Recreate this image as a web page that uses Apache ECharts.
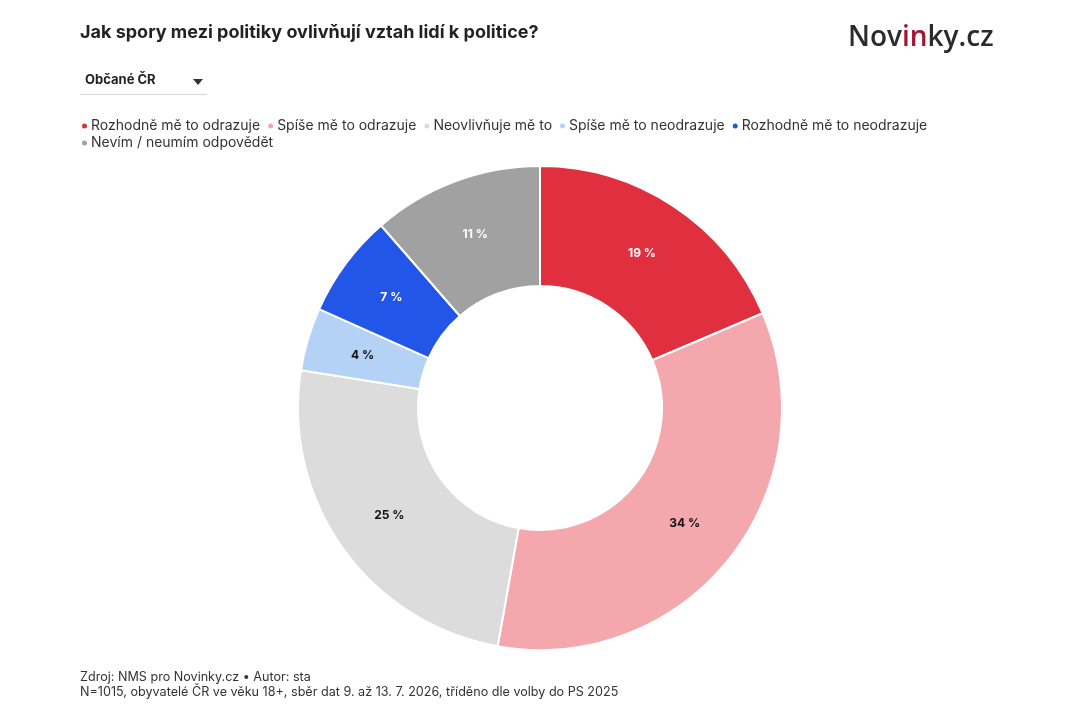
<!DOCTYPE html>
<html>
<head>
<meta charset="utf-8">
<script src="https://cdn.jsdelivr.net/npm/echarts@6/dist/echarts.min.js"></script>
<style>
html,body{margin:0;padding:0;background:#fff;}
#chart{width:1080px;height:720px;}
</style>
</head>
<body>
<div id="chart"></div>
<script>
const categories = ['Rozhodně mě to odrazuje','Spíše mě to odrazuje','Neovlivňuje mě to','Spíše mě to neodrazuje','Rozhodně mě to neodrazuje','Nevím / neumím odpovědět'];
const values = [18.6, 34.2, 24.7, 4.2, 6.9, 11.4];
const colors = ['#e02f3e','#f4a8ae','#dcdcdc','#b4d2f5','#2256e8','#a1a1a1'];
const labelColors = ['#ffffff','#111111','#111111','#111111','#ffffff','#ffffff'];

const chart = echarts.init(document.getElementById('chart'));
const font = 'Inter, "Noto Sans", sans-serif';
const legendBase = {
  left:80, padding:0,
  icon:'circle', itemWidth:7, itemHeight:7, itemGap:6,
  textStyle:{fontFamily:font, fontSize:14, color:'#333', padding:[0,0,0,-2]}
};
chart.setOption({
  animation:false,
  title:[
    {text:'Jak spory mezi politiky ovlivňují vztah lidí k politice?', left:80, top:24, padding:0,
     textStyle:{fontFamily:font, fontSize:18, fontWeight:'bold', color:'#222'}},
    {text:'Zdroj: NMS pro Novinky.cz • Autor: sta\nN=1015, obyvatelé ČR ve věku 18+, sběr dat 9. až 13. 7. 2026, tříděno dle volby do PS 2025',
     left:80, top:670, padding:0, textStyle:{fontFamily:font, fontSize:12.6, fontWeight:'normal', color:'#333', lineHeight:15}}
  ],
  graphic:[
    {type:'text', left:848, top:24, style:{
      text:'{a|Nov}{b|in}{a|ky.cz}',
      rich:{
        a:{fontFamily:'"Open Sans", sans-serif', fontSize:28, fontWeight:600, fill:'#2b2b2b'},
        b:{fontFamily:'"Open Sans", sans-serif', fontSize:28, fontWeight:600, fill:'#a01730'}
      }}},
    {type:'text', left:85, top:74, style:{text:'Občané ČR', fontFamily:font, fontSize:13, fontWeight:'bold', fill:'#222'}},
    {type:'polygon', shape:{points:[[193,79],[203,79],[198,85]]}, style:{fill:'#333'}},
    {type:'line', shape:{x1:80,y1:94.5,x2:207,y2:94.5}, style:{stroke:'#d6d6d6', lineWidth:1}}
  ],
  legend:[
    Object.assign({top:119, data:categories.slice(0,5)}, legendBase),
    Object.assign({top:136, data:categories.slice(5)}, legendBase)
  ],
  series:[{
    type:'pie',
    center:[540,408],
    radius:[122,242],
    startAngle:90,
    clockwise:true,
    avoidLabelOverlap:false,
    itemStyle:{borderColor:'#fff', borderWidth:2},
    label:{
      show:true, position:'inside',
      fontFamily:font, fontSize:12, fontWeight:'bold',
      formatter:p=>Math.round(p.value)+' %'
    },
    labelLine:{show:false},
    emphasis:{disabled:true},
    data:categories.map((c,i)=>({name:c, value:values[i],
      itemStyle:{color:colors[i]},
      label:{color:labelColors[i]}}))
  }]
});
</script>
</body>
</html>
